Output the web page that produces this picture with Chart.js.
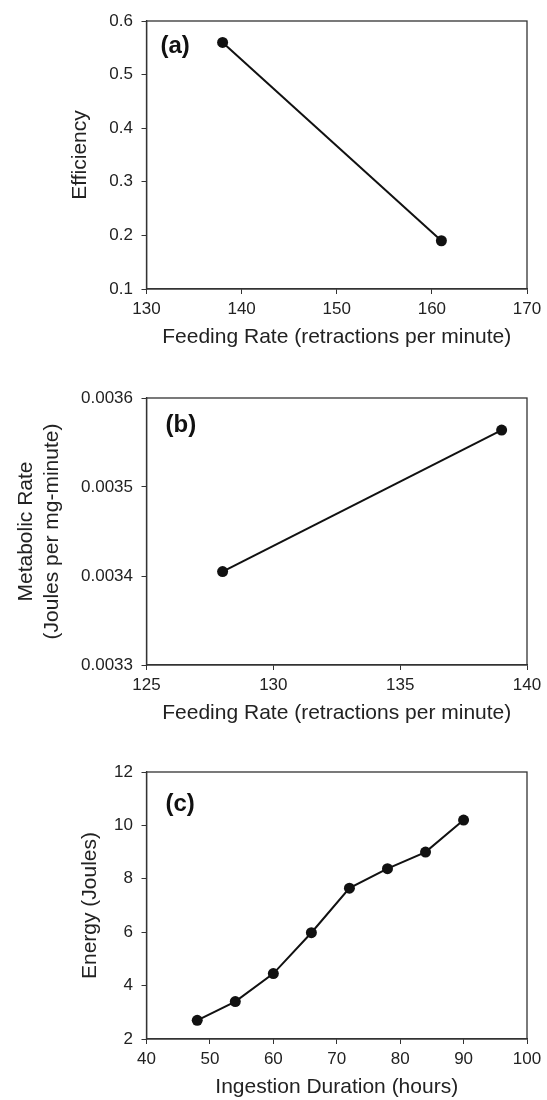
<!DOCTYPE html>
<html>
<head>
<meta charset="utf-8">
<script src="https://cdn.jsdelivr.net/npm/chart.js@4.4.0/dist/chart.umd.min.js"></script>
<style>
    html, body { margin: 0; padding: 0; background: #fff; overflow: hidden; }
    body { width: 547px; height: 1100px; position: relative; }
    canvas { position: absolute; left: 0; }
</style>
</head>
<body>
<canvas id="chartA" width="547" height="350" style="top:0px"></canvas>
<canvas id="chartB" width="547" height="376" style="top:350px"></canvas>
<canvas id="chartC" width="547" height="374" style="top:726px"></canvas>
<script>
// panel (a): efficiency vs feeding rate
const feedRateA = [138, 161];
const efficiency = [0.56, 0.19];
const xTicksA = [130, 140, 150, 160, 170];
const yTicksA = [0.1, 0.2, 0.3, 0.4, 0.5, 0.6];
const yLabelsA = ['0.1', '0.2', '0.3', '0.4', '0.5', '0.6'];

// panel (b): metabolic rate vs feeding rate
const feedRateB = [128, 139];
const metabolicRate = [0.003405, 0.003564];
const xTicksB = [125, 130, 135, 140];
const yTicksB = [0.0033, 0.0034, 0.0035, 0.0036];
const yLabelsB = ['0.0033', '0.0034', '0.0035', '0.0036'];

// panel (c): energy vs ingestion duration
const duration = [48, 54, 60, 66, 72, 78, 84, 90];
const energy = [2.7, 3.4, 4.45, 5.98, 7.65, 8.38, 9.0, 10.2];
const xTicksC = [40, 50, 60, 70, 80, 90, 100];
const yTicksC = [2, 4, 6, 8, 10, 12];

Chart.defaults.font.family = '"Liberation Sans", Arial, sans-serif';
Chart.defaults.color = '#222';

const INK = '#111';
const AXIS = '#333';

// closes the box round the plot area
const framePlugin = {
    id: 'frame',
    afterDraw(chart) {
        const { ctx, chartArea: a } = chart;
        ctx.save();
        ctx.strokeStyle = AXIS;
        ctx.lineWidth = 1.3;
        ctx.strokeRect(a.left, a.top, a.right - a.left, a.bottom - a.top);
        ctx.restore();
    }
};

const tagPlugin = (tag, dx, dy) => ({
    id: 'tag',
    afterDraw(chart) {
        const { ctx, chartArea: a } = chart;
        ctx.save();
        ctx.font = 'bold 24px "Liberation Sans", Arial, sans-serif';
        ctx.fillStyle = INK;
        ctx.textBaseline = 'middle';
        ctx.fillText(tag, a.left + dx, a.top + dy);
        ctx.restore();
    }
});

function makePanel(canvasId, p) {
    return new Chart(document.getElementById(canvasId), {
        type: 'line',
        data: {
            datasets: [{
                data: p.x.map((x, i) => ({ x, y: p.y[i] })),
                borderColor: INK,
                borderWidth: 2,
                pointRadius: 5.5,
                pointBackgroundColor: INK,
                pointBorderWidth: 0,
                tension: 0,
                clip: false,
            }]
        },
        options: {
            responsive: false,
            animation: false,
            events: [],
            layout: { padding: { top: p.top, right: 20, left: 0, bottom: 0 } },
            plugins: { legend: { display: false }, tooltip: { enabled: false } },
            scales: {
                x: {
                    type: 'linear',
                    min: p.xTicks[0],
                    max: p.xTicks[p.xTicks.length - 1],
                    afterBuildTicks: s => { s.ticks = p.xTicks.map(v => ({ value: v })); },
                    afterFit: s => { s.height = 61; },
                    ticks: { font: { size: 17 }, padding: 5, maxRotation: 0, autoSkip: false,
                             callback: (v, i) => String(p.xTicks[i]) },
                    grid: { drawOnChartArea: false, tickLength: 5, color: AXIS },
                    border: { color: AXIS, width: 1.3 },
                    title: { display: true, text: p.xTitle, font: { size: 21 }, padding: { top: 0, bottom: 0 } },
                },
                y: {
                    type: 'linear',
                    min: p.yTicks[0],
                    max: p.yTicks[p.yTicks.length - 1],
                    afterBuildTicks: s => { s.ticks = p.yTicks.map(v => ({ value: v })); },
                    afterFit: s => { s.width = 146.5; },
                    ticks: { font: { size: 17 }, padding: 8.5, autoSkip: false,
                             callback: (v, i) => p.yLabels[i] },
                    grid: { drawOnChartArea: false, tickLength: 5, color: AXIS },
                    border: { color: AXIS, width: 1.3 },
                    title: { display: true, text: p.yTitle, font: { size: 21, lineHeight: 1.25 },
                             padding: { top: p.yTitlePad, bottom: 0 } },
                }
            }
        },
        plugins: [framePlugin, tagPlugin(p.tag, p.tagDx, p.tagDy)]
    });
}

makePanel('chartA', {
    x: feedRateA, y: efficiency, top: 21,
    xTicks: xTicksA, yTicks: yTicksA, yLabels: yLabelsA,
    xTitle: 'Feeding Rate (retractions per minute)',
    yTitle: 'Efficiency', yTitlePad: 67,
    tag: '(a)', tagDx: 14, tagDy: 25
});

makePanel('chartB', {
    x: feedRateB, y: metabolicRate, top: 48,
    xTicks: xTicksB, yTicks: yTicksB, yLabels: yLabelsB,
    xTitle: 'Feeding Rate (retractions per minute)',
    yTitle: ['Metabolic Rate', '(Joules per mg-minute)'], yTitlePad: 13,
    tag: '(b)', tagDx: 19, tagDy: 27
});

makePanel('chartC', {
    x: duration, y: energy, top: 46,
    xTicks: xTicksC, yTicks: yTicksC, yLabels: yTicksC.map(String),
    xTitle: 'Ingestion Duration (hours)',
    yTitle: 'Energy (Joules)', yTitlePad: 77,
    tag: '(c)', tagDx: 19, tagDy: 32
});
</script>
</body>
</html>
